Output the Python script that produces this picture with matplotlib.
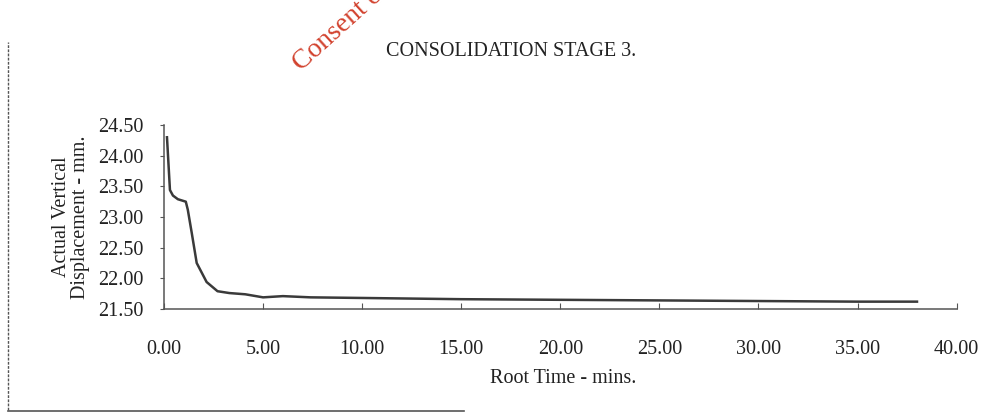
import matplotlib.pyplot as plt
from matplotlib.lines import Line2D

# root time (mins) vs displacement (mm)
root_time = [0.15, 0.3, 0.45, 0.7, 1.1, 1.2, 1.4, 1.65, 2.15, 2.7, 3.3, 4.1,
             5.0, 6.0, 7.4, 10.0, 12.5, 15.0, 20.0, 25.0, 30.0, 35.0, 38.0]
displacement = [24.30, 23.44, 23.35, 23.29, 23.25, 23.12, 22.74, 22.25, 21.94,
                21.79, 21.76, 21.74, 21.69, 21.71, 21.69, 21.68, 21.67, 21.66,
                21.65, 21.64, 21.63, 21.62, 21.62]
x_ticks = [0, 5, 10, 15, 20, 25, 30, 35, 40]
y_ticks = [21.5, 22.0, 22.5, 23.0, 23.5, 24.0, 24.5]

plt.rcParams['font.family'] = ['Liberation Serif', 'DejaVu Serif']

fig = plt.figure(figsize=(9.97, 4.16), dpi=100)
ax = fig.add_axes([0.1645, 0.2572, 0.795, 0.4423])

ax.plot(root_time, displacement, color='#3a3a3a', linewidth=1.8)

ax.set_xlim(0, 40)
ax.set_ylim(21.5, 24.5)
ax.set_xticks(x_ticks)
ax.set_xticklabels([f"{v:.2f}" for v in x_ticks])
ax.set_yticks(y_ticks)
ax.set_yticklabels([f"{v:.2f}" for v in y_ticks])

for s in ['top', 'right']:
    ax.spines[s].set_visible(False)
for s in ['left', 'bottom']:
    ax.spines[s].set_color('#555555')
    ax.spines[s].set_linewidth(1.1)

ax.tick_params(axis='x', direction='in', length=4, width=0.8, color='#555555',
               labelsize=14.5, pad=22, labelcolor='#222222')
ax.tick_params(axis='y', direction='out', length=3, width=0.8, color='#555555',
               labelsize=14.5, pad=12, labelcolor='#222222')

fig.text(0.5125, 0.877, "CONSOLIDATION STAGE 3.", ha='center', va='center',
         fontsize=14.5, color='#222222')
fig.text(0.071, 0.478, "Actual Vertical\nDisplacement - mm.", ha='center',
         va='center', rotation=90, fontsize=14.5, linespacing=1.0, color='#222222')
fig.text(0.565, 0.09, "Root Time - mins.", ha='center', va='center',
         fontsize=14.5, color='#222222')

# red watermark stamped on the scan
fig.text(0.302, 0.827, "Consent of copyright owner required for any other use.",
         ha='left', va='baseline', rotation=42, rotation_mode='anchor',
         fontsize=20, color='#d2422e')

# scan page border
fig.add_artist(Line2D([0.008, 0.008], [0.015, 0.9], transform=fig.transFigure,
                      color='#555555', linewidth=1.0, linestyle=(0, (2, 1))))
fig.add_artist(Line2D([0.008, 0.465], [0.012, 0.012], transform=fig.transFigure,
                      color='#555555', linewidth=1.2))

fig.savefig('out.png', dpi=100)
